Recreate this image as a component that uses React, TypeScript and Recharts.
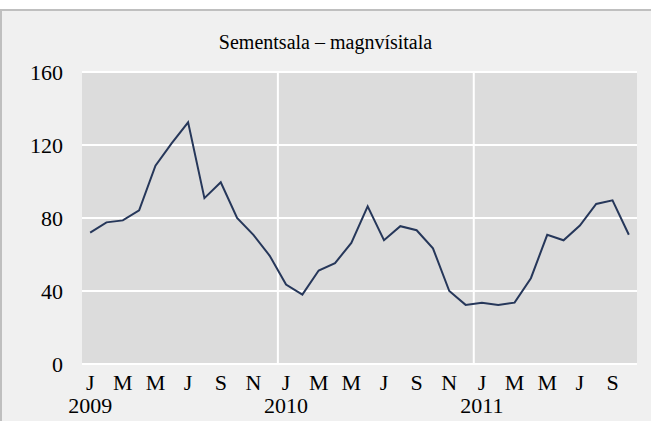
import { LineChart, Line, XAxis, YAxis, CartesianGrid, ReferenceLine } from "recharts";

const years = ["2009", "2010", "2011"];
const monthLetters = ["J", "F", "M", "A", "M", "J", "J", "A", "S", "O", "N", "D"];
const values2009 = [72, 77.6, 78.7, 84.2, 108.7, 121, 132.4, 90.9, 99.6, 80, 70.8, 59.3];
const values2010 = [43.5, 38, 51.2, 55.3, 66.3, 86.4, 67.8, 75.5, 73.3, 63.4, 40, 32.4];
const values2011 = [33.6, 32.4, 33.6, 47, 70.8, 67.8, 75.9, 87.7, 89.7, 70.8];
const yTicks = [0, 40, 80, 120, 160];

const data = [values2009, values2010, values2011].flatMap((vals, yi) =>
  vals.map((v, m) => ({
    i: yi * 12 + m,
    month: monthLetters[m],
    year: m === 0 ? years[yi] : "",
    value: v,
  }))
);

const xTicks = data.filter((d) => d.i % 2 === 0).map((d) => d.i);
const yearBreaks = [11.5, 23.5];

const font = "'Liberation Serif', 'Times New Roman', serif";

function MonthTick({ x, y, payload }: any) {
  const d = data[payload.value];
  if (!d) return null;
  return (
    <g>
      <text x={x} y={y} dy={26} textAnchor="middle" fontSize={22} fontFamily={font} fill="#000">
        {d.month}
      </text>
      {d.year && (
        <text x={x} y={y} dy={49} textAnchor="middle" fontSize={22} fontFamily={font} fill="#000">
          {d.year}
        </text>
      )}
    </g>
  );
}

export default function App() {
  return (
    <div style={{ position: "relative", width: 651, height: 421, background: "#fff", overflow: "hidden" }}>
      <style>{`body{margin:0}`}</style>
      <div
        style={{
          position: "absolute",
          top: 9,
          left: 0,
          width: 651,
          height: 412,
          boxSizing: "border-box",
          borderTop: "2px solid #bfbfbf",
          borderLeft: "2px solid #bfbfbf",
          background: "#f0f0f0",
        }}
      />
      <div
        style={{
          position: "absolute",
          top: 31,
          left: 0,
          width: 651,
          textAlign: "center",
          fontFamily: font,
          fontSize: 20,
          color: "#000",
        }}
      >
        Sementsala – magnvísitala
      </div>
      <div style={{ position: "absolute", top: 0, left: 0 }}>
        <LineChart width={651} height={421} data={data} margin={{ top: 72, right: 14, left: 22, bottom: 7 }}>
          <CartesianGrid fill="#dcdcdc" stroke="#fff" strokeWidth={2} vertical={false} />
          <XAxis
            type="number"
            dataKey="i"
            domain={[-0.5, 33.5]}
            ticks={xTicks}
            interval={0}
            tick={<MonthTick />}
            tickLine={false}
            axisLine={false}
            tickSize={0}
            tickMargin={0}
            height={50}
          />
          <YAxis
            domain={[0, 160]}
            ticks={yTicks}
            tickLine={false}
            axisLine={false}
            tickSize={0}
            tickMargin={19}
            width={60}
            tick={{ fontSize: 22, fontFamily: font, fill: "#000" }}
          />
          {yearBreaks.map((b) => (
            <ReferenceLine key={b} x={b} stroke="#fff" strokeWidth={2} />
          ))}
          <Line
            type="linear"
            dataKey="value"
            stroke="#26375a"
            strokeWidth={2}
            dot={false}
            isAnimationActive={false}
          />
        </LineChart>
      </div>
    </div>
  );
}
